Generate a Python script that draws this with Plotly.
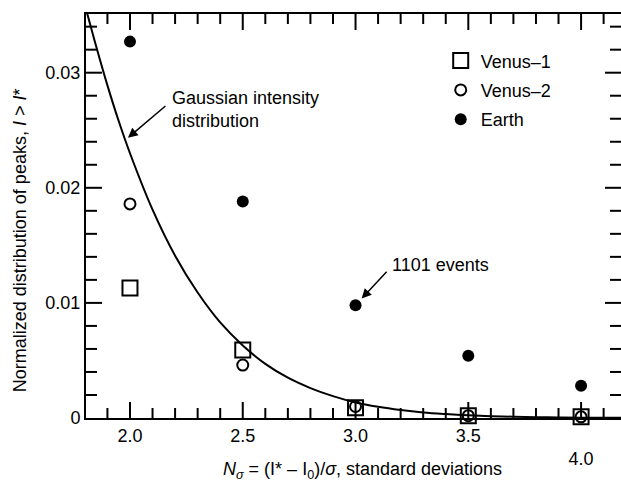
import plotly.graph_objects as go

# ---- data ----
n_sigma = [2.0, 2.5, 3.0, 3.5, 4.0]
venus1 = [0.0113, 0.0059, 0.0009, 0.0002, 0.0001]
venus2 = [0.0186, 0.0046, 0.0010, 0.0002, 0.0001]
earth = [0.0327, 0.0188, 0.0098, 0.0054, 0.0028]

curve_x = [1.80, 1.85, 1.90, 1.95, 2.00, 2.10, 2.20, 2.30, 2.40, 2.50, 2.60, 2.70,
           2.80, 2.90, 3.00, 3.10, 3.20, 3.30, 3.40, 3.50, 3.60, 3.70, 3.80, 3.90,
           4.00, 4.10, 4.20]
curve_y = [0.0359, 0.0323, 0.0289, 0.0258, 0.0230, 0.0181, 0.0141, 0.0109, 0.0083,
           0.0063, 0.0047, 0.0035, 0.0026, 0.0019, 0.00135, 0.00097, 0.00069,
           0.00048, 0.00034, 0.00023, 0.00016, 0.00011, 0.00007, 0.00005,
           0.00003, 0.00002, 0.00001]

x_tickvals = [2.0, 2.5, 3.0, 3.5, 4.0]
x_ticktext = ["2.0", "2.5", "3.0", "3.5", " <br>4.0"]
x_minor = [1.9, 2.1, 2.2, 2.3, 2.4, 2.6, 2.7, 2.8, 2.9, 3.1, 3.2, 3.3, 3.4,
           3.6, 3.7, 3.8, 3.9, 4.1]
y_tickvals = [0, 0.01, 0.02, 0.03]
y_ticktext = ["0", "0.01", "0.02", "0.03"]
y_minor = [0.002, 0.004, 0.006, 0.008, 0.012, 0.014, 0.016, 0.018, 0.022, 0.024,
           0.026, 0.028, 0.032, 0.034]
x_range = [1.805, 4.177]
y_range = [0, 0.0351]

FONT = "Liberation Sans, Arial, Helvetica, sans-serif"
W, H = 621, 481
M = dict(l=86, r=0, t=14, b=63)
px_x = (W - M["l"] - M["r"]) / (x_range[1] - x_range[0])   # pixels per x unit
px_y = (H - M["t"] - M["b"]) / (y_range[1] - y_range[0])   # pixels per y unit

# inward tick marks on all four sides (axis decoration built from the tick lists)
tx, ty = [], []
for vals, ln in [(x_tickvals, 16), (x_minor, 10)]:
    for v in vals:
        tx += [v, v, None, v, v, None]
        ty += [y_range[0], y_range[0] + ln / px_y, None,
               y_range[1], y_range[1] - ln / px_y, None]
for vals, ln in [(y_tickvals[1:], 16), (y_minor, 11)]:
    for v in vals:
        tx += [x_range[0], x_range[0] + ln / px_x, None,
               x_range[1], x_range[1] - ln / px_x, None]
        ty += [v, v, None, v, v, None]

fig = go.Figure()
fig.add_trace(go.Scatter(x=tx, y=ty, mode="lines", line=dict(color="black", width=2),
                         showlegend=False, hoverinfo="skip", connectgaps=False))
fig.add_trace(go.Scatter(x=curve_x, y=curve_y, mode="lines", line=dict(color="black", width=2),
                         line_shape="spline", showlegend=False, hoverinfo="skip"))
fig.add_trace(go.Scatter(x=n_sigma, y=venus1, mode="markers", name="Venus\u20131",
                         legendgroup="a", cliponaxis=False,
                         marker=dict(symbol="square-open", size=15, color="black",
                                     line=dict(width=2, color="black"))))
fig.add_trace(go.Scatter(x=n_sigma, y=venus2, mode="markers", name="Venus\u20132",
                         legendgroup="b", cliponaxis=False,
                         marker=dict(symbol="circle-open", size=11, color="black",
                                     line=dict(width=2, color="black"))))
fig.add_trace(go.Scatter(x=n_sigma, y=earth, mode="markers", name="Earth",
                         legendgroup="c", cliponaxis=False,
                         marker=dict(symbol="circle", size=12, color="black")))

fig.update_layout(
    width=W, height=H,
    margin=M,
    paper_bgcolor="white", plot_bgcolor="white",
    font=dict(family=FONT, size=18, color="black"),
    showlegend=True,
    legend=dict(x=0.663, y=0.93, xanchor="left", yanchor="top",
                font=dict(size=18), traceorder="grouped", tracegroupgap=3,
                bgcolor="rgba(0,0,0,0)", itemwidth=30),
    xaxis=dict(range=x_range, tickvals=x_tickvals, ticktext=x_ticktext, ticks="",
               showline=True, linewidth=2, linecolor="black", mirror=True,
               showgrid=False, zeroline=False, tickfont=dict(size=18)),
    yaxis=dict(range=y_range, tickvals=y_tickvals, ticktext=y_ticktext, ticks="",
               showline=True, linewidth=2, linecolor="black", mirror=False,
               showgrid=False, zeroline=False, tickfont=dict(size=18)),
    annotations=[
        dict(xref="paper", yref="paper", x=0.516, y=-0.130, xanchor="center", yanchor="middle",
             showarrow=False, font=dict(size=18),
             text="<i>N</i><sub><i>σ</i></sub> = (I* – I<sub>0</sub>)/<i>σ</i>, standard deviations"),
        dict(xref="paper", yref="paper", x=-0.1234, y=0.44, xanchor="center", yanchor="middle",
             textangle=-90, showarrow=False, font=dict(size=18),
             text="Normalized distribution of peaks, <i>I</i> > <i>I</i>*"),
        dict(x=2.177, y=0.02683, xref="x", yref="y", xanchor="left", yanchor="middle",
             align="left", showarrow=False, font=dict(size=18),
             text="Gaussian intensity<br>distribution"),
        dict(x=1.991, y=0.02435, xref="x", yref="y", ax=39, ay=-33, text="",
             showarrow=True, arrowhead=2, arrowsize=1.3, arrowwidth=1.5, arrowcolor="black"),
        dict(x=3.153, y=0.0133, xref="x", yref="y", xanchor="left", yanchor="middle",
             showarrow=False, font=dict(size=18), text="1101 events"),
        dict(x=3.0, y=0.0098, xref="x", yref="y", ax=32.5, ay=-35, text="", standoff=9,
             showarrow=True, arrowhead=2, arrowsize=1.3, arrowwidth=1.5, arrowcolor="black"),
    ],
)

fig.write_html("out.html")
